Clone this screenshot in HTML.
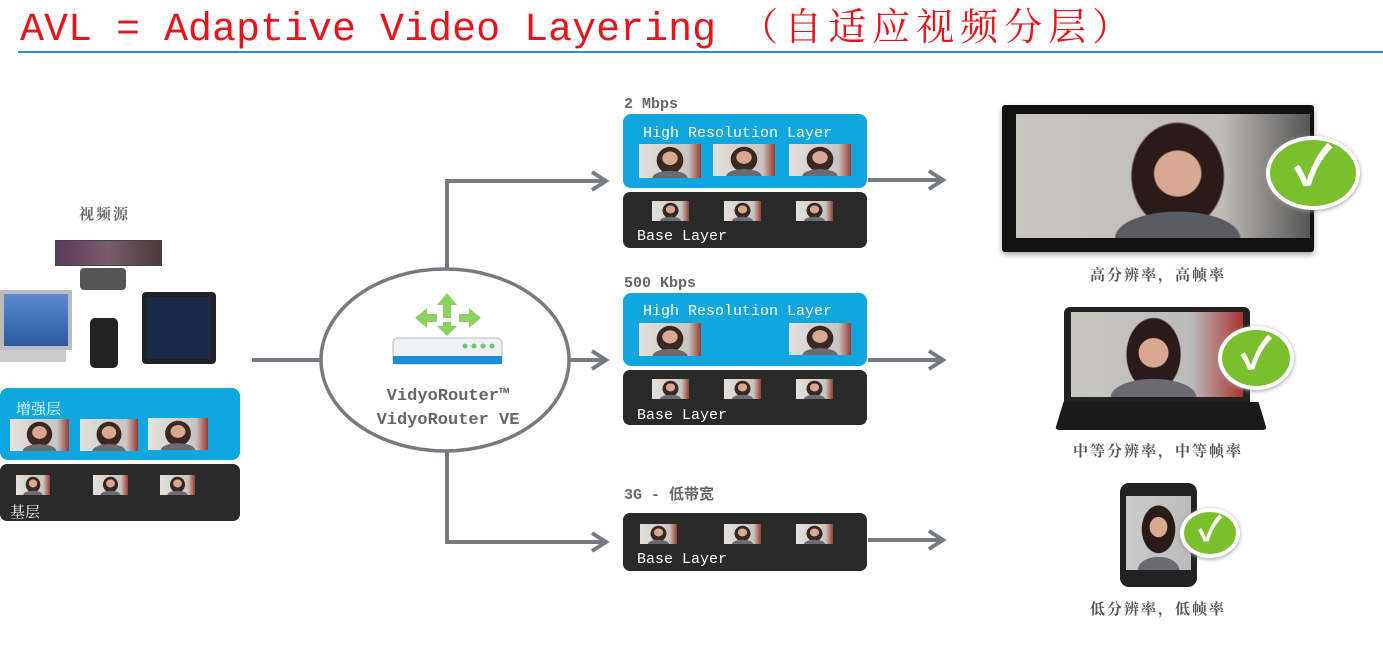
<!DOCTYPE html>
<html><head><meta charset="utf-8"><style>
*{margin:0;padding:0;box-sizing:border-box}
body{width:1383px;height:657px;background:#fff;position:relative;overflow:hidden;font-family:"Liberation Mono","Noto Sans CJK SC",monospace}
.a{position:absolute}
.t{position:absolute;background:radial-gradient(ellipse 20% 32% at 50% 42%,#d8a890 60%,transparent 64%),radial-gradient(ellipse 40% 30% at 50% 100%,#6a6a72 70%,transparent 72%),radial-gradient(ellipse 30% 55% at 50% 48%,#3a2822 70%,transparent 73%),linear-gradient(90deg,#e4e0dc 0,#c8c4c0 80%,#9a3a30 100%)}
.blue{position:absolute;background:#12a6de;border-radius:8px}
.dark{position:absolute;background:#2a2a2a;border-radius:7px}
.w{position:absolute;color:#fff;font-size:15px;font-family:"Liberation Mono","Noto Sans CJK SC",monospace}
.g{position:absolute;color:#666;font-size:15px;font-weight:bold;font-family:"Liberation Mono","Noto Sans CJK SC",monospace}
.lab{position:absolute;color:#555;font-size:15px;font-family:"Noto Serif CJK SC","Noto Sans CJK SC",serif;text-align:center;width:240px;letter-spacing:2px;font-weight:bold}
.chk{position:absolute;border-radius:50%;background:#7cbf2e;border:4px solid #fff;box-shadow:0 1px 4px #999;color:#fff;text-align:center;font-weight:bold}
</style></head><body>
<div class="a" style="left:20px;top:-4px;color:#e8141c;font-size:40px;font-family:'Liberation Mono','Noto Sans CJK SC',monospace;white-space:nowrap">AVL = Adaptive Video Layering <span style="font-family:'Noto Serif CJK SC',serif;letter-spacing:6px;font-size:38px">（自适应视频分层）</span></div>
<div class="a" style="left:18px;top:51px;width:1365px;height:2px;background:#2a8fe0"></div>

<svg class="a" style="left:0;top:0" width="1383" height="657">
<g stroke="#777a80" stroke-width="4" fill="none">
<line x1="252" y1="360" x2="320" y2="360"/>
<ellipse cx="445" cy="360" rx="124" ry="91" stroke-width="3.5"/>
<polyline points="447,269 447,181 606,181"/>
<polyline points="447,451 447,542 606,542"/>
<line x1="570" y1="360" x2="606" y2="360"/>
<polyline points="592,172 606,181 592,190"/>
<polyline points="592,351 606,360 592,369"/>
<polyline points="592,533 606,542 592,551"/>
<line x1="868" y1="180" x2="943" y2="180"/><polyline points="929,171 943,180 929,189"/>
<line x1="868" y1="360" x2="943" y2="360"/><polyline points="929,351 943,360 929,369"/>
<line x1="868" y1="540" x2="943" y2="540"/><polyline points="929,531 943,540 929,549"/>
</g>
<g fill="#8cd060"><polygon points="447,293 437,305 443,305 443,318 451,318 451,305 457,305"/>
<polygon points="415,318 427,308 427,314 437,314 437,322 427,322 427,328"/>
<polygon points="481,318 469,308 469,314 459,314 459,322 469,322 469,328"/>
<polygon points="447,336 437,326 443,326 443,322 451,322 451,326 457,326"/></g>
<rect x="393" y="338" width="109" height="26" rx="5" fill="#eef2f6" stroke="#bbb"/>
<rect x="393" y="356" width="109" height="8" fill="#1a8fd8"/>
<g fill="#6c6"><circle cx="465" cy="346" r="2.5"/><circle cx="474" cy="346" r="2.5"/><circle cx="483" cy="346" r="2.5"/><circle cx="492" cy="346" r="2.5"/></g>
</svg>
<div class="g" style="left:330px;top:385px;width:236px;text-align:center;font-size:17px;line-height:24px;color:#666">VidyoRouter™<br>VidyoRouter VE</div>

<div class="g" style="left:79px;top:203px;font-family:'Noto Serif CJK SC',serif;letter-spacing:2px">视频源</div>
<div class="a" style="left:55px;top:240px;width:107px;height:26px;background:linear-gradient(90deg,#5a3a5a,#7a5a6a 50%,#4a3a3a);border:1px solid #444"></div>
<div class="a" style="left:80px;top:268px;width:46px;height:22px;background:#555;border-radius:4px"></div>
<div class="a" style="left:0;top:290px;width:72px;height:60px;background:linear-gradient(#5a8ad0,#2a5aa0);border:4px solid #bbb"></div>
<div class="a" style="left:0;top:350px;width:66px;height:12px;background:#ccc"></div>
<div class="a" style="left:90px;top:318px;width:28px;height:50px;background:#222;border-radius:5px"></div>
<div class="a" style="left:142px;top:292px;width:74px;height:72px;background:#1a2a4a;border:5px solid #222;border-radius:4px"></div>

<div class="blue" style="left:0;top:388px;width:240px;height:72px"></div>
<div class="w" style="left:16px;top:398px;font-family:'Noto Serif CJK SC',serif">增强层</div>
<div class="t" style="left:10px;top:419px;width:59px;height:32px"></div>
<div class="t" style="left:80px;top:419px;width:58px;height:32px"></div>
<div class="t" style="left:148px;top:418px;width:60px;height:32px"></div>
<div class="dark" style="left:0;top:464px;width:240px;height:57px"></div>
<div class="t" style="left:16px;top:475px;width:34px;height:20px"></div>
<div class="t" style="left:93px;top:475px;width:35px;height:20px"></div>
<div class="t" style="left:160px;top:475px;width:35px;height:20px"></div>
<div class="w" style="left:10px;top:501px;font-family:'Noto Serif CJK SC',serif">基层</div>

<div class="g" style="left:624px;top:96px">2 Mbps</div>
<div class="blue" style="left:623px;top:114px;width:244px;height:74px"></div>
<div class="w" style="left:643px;top:125px">High Resolution Layer</div>
<div class="t" style="left:639px;top:144px;width:62px;height:34px"></div>
<div class="t" style="left:713px;top:144px;width:62px;height:32px"></div>
<div class="t" style="left:789px;top:144px;width:62px;height:32px"></div>
<div class="dark" style="left:623px;top:192px;width:244px;height:56px"></div>
<div class="t" style="left:652px;top:201px;width:37px;height:20px"></div>
<div class="t" style="left:724px;top:201px;width:37px;height:20px"></div>
<div class="t" style="left:796px;top:201px;width:37px;height:20px"></div>
<div class="w" style="left:637px;top:228px">Base Layer</div>

<div class="g" style="left:624px;top:275px">500 Kbps</div>
<div class="blue" style="left:623px;top:293px;width:244px;height:73px"></div>
<div class="w" style="left:643px;top:303px">High Resolution Layer</div>
<div class="t" style="left:639px;top:323px;width:62px;height:33px"></div>
<div class="t" style="left:789px;top:323px;width:62px;height:32px"></div>
<div class="dark" style="left:623px;top:370px;width:244px;height:55px"></div>
<div class="t" style="left:652px;top:379px;width:37px;height:20px"></div>
<div class="t" style="left:724px;top:379px;width:37px;height:20px"></div>
<div class="t" style="left:796px;top:379px;width:37px;height:20px"></div>
<div class="w" style="left:637px;top:407px">Base Layer</div>

<div class="g" style="left:624px;top:483px">3G - 低带宽</div>
<div class="dark" style="left:623px;top:513px;width:244px;height:58px"></div>
<div class="t" style="left:640px;top:524px;width:37px;height:20px"></div>
<div class="t" style="left:724px;top:524px;width:37px;height:20px"></div>
<div class="t" style="left:796px;top:524px;width:37px;height:20px"></div>
<div class="w" style="left:637px;top:551px">Base Layer</div>

<div class="a" style="left:1002px;top:105px;width:312px;height:147px;background:#111;border-radius:3px;box-shadow:0 3px 6px #aaa"></div>
<div class="t" style="left:1016px;top:114px;width:294px;height:124px;background:radial-gradient(ellipse 13% 30% at 55% 48%,#d8a890 60%,transparent 64%),radial-gradient(ellipse 30% 30% at 55% 100%,#5a5a62 70%,transparent 72%),radial-gradient(ellipse 22% 60% at 55% 50%,#2a1a18 70%,transparent 73%),linear-gradient(90deg,#c8c6c0 0,#c0bcb8 70%,#555 100%)"></div>
<div class="chk" style="left:1266px;top:136px;width:94px;height:74px;font-size:54px;line-height:64px">✓</div>
<div class="lab" style="left:1038px;top:264px">高分辨率，高帧率</div>

<div class="a" style="left:1064px;top:307px;width:186px;height:95px;background:#222;border-radius:6px 6px 0 0"></div>
<div class="t" style="left:1071px;top:312px;width:172px;height:85px;background:radial-gradient(ellipse 14% 28% at 48% 48%,#d8a890 60%,transparent 64%),radial-gradient(ellipse 35% 30% at 48% 100%,#6a6a72 70%,transparent 72%),radial-gradient(ellipse 22% 60% at 48% 50%,#2a1a18 70%,transparent 73%),linear-gradient(90deg,#c8c6c0 0,#bbb 70%,#a33 100%)"></div>
<div class="a" style="left:1055px;top:402px;width:212px;height:28px;background:#1a1a1a;clip-path:polygon(4% 0,96% 0,100% 100%,0 100%);border-radius:4px"></div>
<div class="chk" style="left:1218px;top:326px;width:76px;height:64px;font-size:44px;line-height:56px">✓</div>
<div class="lab" style="left:1038px;top:440px">中等分辨率，中等帧率</div>

<div class="a" style="left:1120px;top:483px;width:77px;height:104px;background:#222;border-radius:9px"></div>
<div class="t" style="left:1126px;top:496px;width:65px;height:74px;background:radial-gradient(ellipse 22% 22% at 50% 42%,#d8a890 60%,transparent 64%),radial-gradient(ellipse 45% 25% at 50% 100%,#6a6a72 70%,transparent 72%),radial-gradient(ellipse 36% 45% at 50% 45%,#2a1a18 70%,transparent 73%),linear-gradient(90deg,#ccc,#bbb)"></div>
<div class="chk" style="left:1180px;top:508px;width:60px;height:50px;font-size:34px;line-height:42px">✓</div>
<div class="lab" style="left:1038px;top:598px">低分辨率，低帧率</div>
</body></html>
